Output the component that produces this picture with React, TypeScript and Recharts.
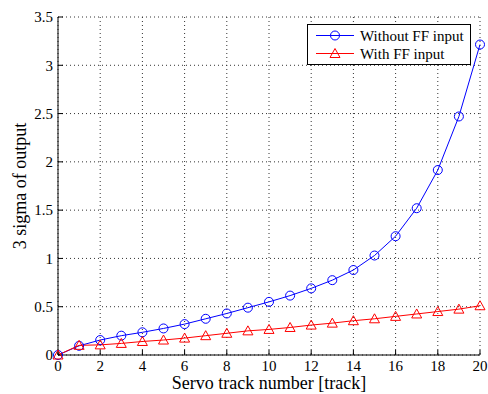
import {
  CartesianGrid,
  Legend,
  Line,
  LineChart,
  XAxis,
  YAxis,
} from "recharts";

const tracks = [0, 1, 2, 3, 4, 5, 6, 7, 8, 9, 10, 11, 12, 13, 14, 15, 16, 17, 18, 19, 20];
const withoutFF = [
  0, 0.095, 0.155, 0.2, 0.235, 0.275, 0.32, 0.375, 0.43, 0.49, 0.55, 0.615,
  0.69, 0.775, 0.88, 1.03, 1.23, 1.52, 1.915, 2.47, 3.215,
];
const withFF = [
  0, 0.1, 0.105, 0.12, 0.14, 0.155, 0.175, 0.2, 0.225, 0.25, 0.265, 0.285,
  0.31, 0.33, 0.355, 0.375, 0.4, 0.425, 0.45, 0.475, 0.51,
];
const xTicks = [0, 2, 4, 6, 8, 10, 12, 14, 16, 18, 20];
const yTicks = [0, 0.5, 1, 1.5, 2, 2.5, 3, 3.5];

const data = tracks.map((t, i) => ({
  track: t,
  without: withoutFF[i],
  withFF: withFF[i],
}));

const FONT = '"Liberation Serif", "Times New Roman", serif';
const BLUE = "#0000ff";
const RED = "#ff0000";

function Circle(props: any) {
  const { cx, cy, index } = props;
  return <circle key={index} cx={cx} cy={cy} r={4.5} fill="none" stroke={BLUE} strokeWidth={1} />;
}

function Triangle(props: any) {
  const { cx, cy, index } = props;
  const pts = `${cx - 5},${cy + 4} ${cx + 5},${cy + 4} ${cx},${cy - 5}`;
  return <polygon key={index} points={pts} fill="none" stroke={RED} strokeWidth={1} />;
}

function XLabel() {
  return (
    <text x={269} y={389} textAnchor="middle" fontFamily={FONT} fontSize={18} fill="#000">
      Servo track number [track]
    </text>
  );
}

function YLabel() {
  return (
    <text
      x={26}
      y={186}
      transform="rotate(-90 26 186)"
      textAnchor="middle"
      fontFamily={FONT}
      fontSize={18}
      fill="#000"
    >
      3 sigma of output
    </text>
  );
}

function LegendBox() {
  return (
    <svg width={164} height={41} style={{ display: "block" }}>
      <rect x={0.5} y={0.5} width={163} height={40} fill="#fff" stroke="#000" strokeWidth={1} />
      <line x1={9} x2={47} y1={11.5} y2={11.5} stroke={BLUE} />
      <circle cx={28} cy={11.5} r={4.5} fill="none" stroke={BLUE} />
      <text x={53} y={16.5} fontFamily={FONT} fontSize={15} fill="#000">
        Without FF input
      </text>
      <line x1={9} x2={47} y1={29.5} y2={29.5} stroke={RED} />
      <polygon points="23,33.5 33,33.5 28,24.5" fill="none" stroke={RED} />
      <text x={53} y={34.5} fontFamily={FONT} fontSize={15} fill="#000">
        With FF input
      </text>
    </svg>
  );
}

export default function App() {
  return (
    <div style={{ width: 488, height: 394, background: "#fff" }}>
      <style>{"body{margin:0}"}</style>
      <LineChart
        width={488}
        height={394}
        data={data}
        margin={{ top: 17, right: 8, bottom: 0, left: 0 }}
      >
        <CartesianGrid
          stroke="#333"
          strokeDasharray="1 3"
          horizontalValues={yTicks}
          verticalValues={xTicks}
          xAxisId="bottom"
          yAxisId="left"
        />
        <XAxis
          xAxisId="bottom"
          dataKey="track"
          type="number"
          domain={[0, 20]}
          ticks={xTicks}
          height={39}
          tickSize={-5}
          tickMargin={10}
          stroke="#000"
          tick={{ fill: "#000", fontSize: 15, fontFamily: FONT }}
          label={<XLabel />}
        />
        <XAxis
          xAxisId="top"
          orientation="top"
          type="number"
          domain={[0, 20]}
          ticks={xTicks}
          height={0}
          tickSize={-5}
          tick={false}
          stroke="#000"
        />
        <YAxis
          yAxisId="left"
          type="number"
          domain={[0, 3.5]}
          ticks={yTicks}
          width={58}
          tickSize={-5}
          tickMargin={10}
          stroke="#000"
          tick={{ fill: "#000", fontSize: 15, fontFamily: FONT }}
          label={<YLabel />}
        />
        <YAxis
          yAxisId="right"
          orientation="right"
          type="number"
          domain={[0, 3.5]}
          ticks={yTicks}
          width={0}
          tickSize={-5}
          tick={false}
          stroke="#000"
        />
        <Legend
          layout="vertical"
          align="center"
          verticalAlign="middle"
          content={() => <LegendBox />}
          wrapperStyle={{ top: 24, left: 307, width: 164, height: 41 }}
        />
        <Line
          xAxisId="bottom"
          yAxisId="left"
          type="linear"
          dataKey="without"
          name="Without FF input"
          stroke={BLUE}
          strokeWidth={1}
          dot={Circle}
          activeDot={false}
          isAnimationActive={false}
        />
        <Line
          xAxisId="bottom"
          yAxisId="left"
          type="linear"
          dataKey="withFF"
          name="With FF input"
          stroke={RED}
          strokeWidth={1}
          dot={Triangle}
          activeDot={false}
          isAnimationActive={false}
        />
      </LineChart>
    </div>
  );
}
